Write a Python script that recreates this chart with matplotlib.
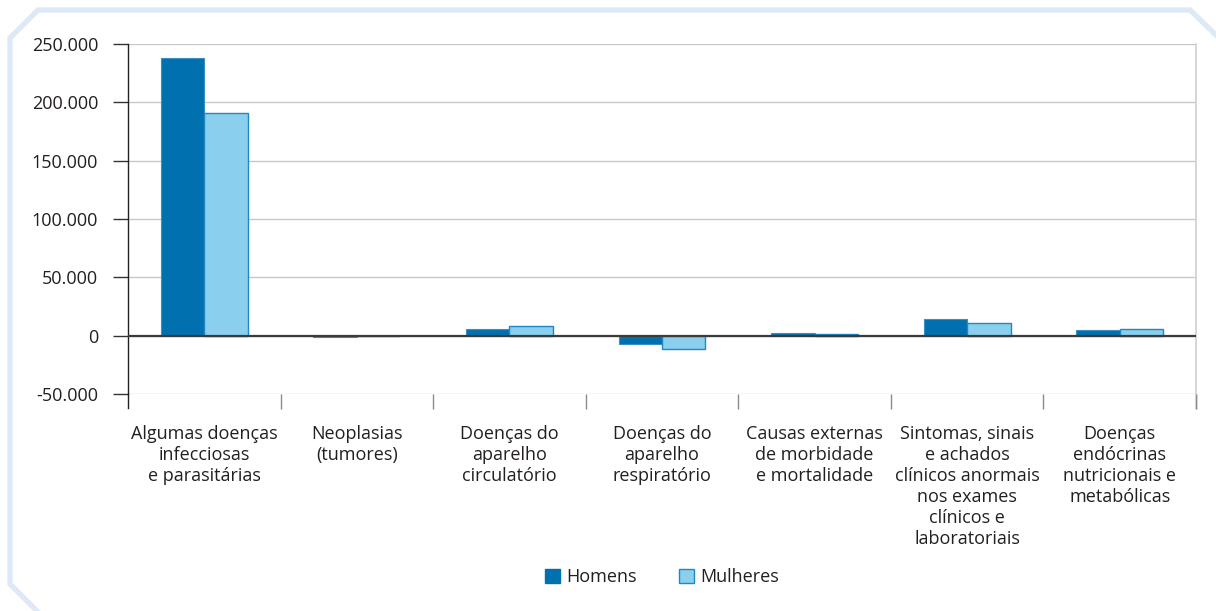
import numpy as np
import matplotlib
matplotlib.use("Agg")
import matplotlib.pyplot as plt
from matplotlib.lines import Line2D
from matplotlib.patches import Patch
from matplotlib.ticker import FuncFormatter

categories = [
    "Algumas doenças\ninfecciosas\ne parasitárias",
    "Neoplasias\n(tumores)",
    "Doenças do\naparelho\ncirculatório",
    "Doenças do\naparelho\nrespiratório",
    "Causas externas\nde morbidade\ne mortalidade",
    "Sintomas, sinais\ne achados\nclínicos anormais\nnos exames\nclínicos e\nlaboratoriais",
    "Doenças\nendócrinas\nnutricionais e\nmetabólicas",
]
homens = [238000, -1500, 6000, -7000, 2600, 14600, 5200]
mulheres = [190500, -600, 8000, -11500, 1500, 10600, 6000]
yticks = [-50000, 0, 50000, 100000, 150000, 200000, 250000]

plt.rcParams['font.family'] = ['Open Sans', 'DejaVu Sans']
text_color = '#231f20'
fs = 13

W, H = 1216, 611
fig = plt.figure(figsize=(W / 100, H / 100), dpi=100)
ax = fig.add_axes([128 / W, 1 - 394 / H, (1196 - 128) / W, (394 - 44) / H])

x = np.arange(len(categories))
bw = 0.285
ax.bar(x - bw / 2, homens, bw, color='#0071ae', edgecolor='#3a8fc4', linewidth=0.8, zorder=3)
ax.bar(x + bw / 2, mulheres, bw, color='#8acfee', edgecolor='#2088c6', linewidth=1.0, zorder=3)

ax.set_xlim(-0.5, len(categories) - 0.5)
ax.set_ylim(-50000, 250000)
ax.set_yticks(yticks)
ax.yaxis.set_major_formatter(FuncFormatter(lambda v, p: f"{int(v):,}".replace(",", ".")))
ax.yaxis.grid(True, color='#c8c8c8', linewidth=1.0, zorder=0)
ax.axhline(0, color='#3a3a3a', linewidth=1.6, zorder=4)

ax.set_xticks(x)
ax.set_xticklabels(categories, fontsize=fs, color=text_color, linespacing=1.22)
ax.tick_params(axis='x', which='major', length=0, pad=22)
ax.set_xticks(np.arange(0.5, len(categories), 1), minor=True)
ax.tick_params(axis='x', which='minor', length=10.5, width=1.0, color='#8c8c8c', direction='out')
ax.tick_params(axis='y', length=11, width=1.0, color='#333333', labelsize=fs,
               labelcolor=text_color, pad=10.5)

for s in ['top', 'bottom']:
    ax.spines[s].set_visible(False)
ax.spines['right'].set_color('#d0d0d0')
ax.spines['right'].set_linewidth(1.2)
ax.spines['left'].set_color('#222222')
ax.spines['left'].set_linewidth(1.0)
# left spine runs a little below the plot like the category ticks
ax.plot([0, 0], [0, -14 / 350], transform=ax.transAxes, color='#222222',
        linewidth=1.0, clip_on=False)
ax.plot([1, 1], [0, -14 / 350], transform=ax.transAxes, color='#8c8c8c',
        linewidth=1.0, clip_on=False)

handles = [Patch(facecolor='#0071ae', edgecolor='#0071ae', label='Homens'),
           Patch(facecolor='#8acfee', edgecolor='#2088c6', label='Mulheres')]
fig.legend(handles=handles, loc='center', bbox_to_anchor=(662 / W, 1 - 577 / H),
           ncol=2, frameon=False, fontsize=fs, handlelength=0.85, handleheight=0.85,
           handletextpad=0.35, columnspacing=2.3, labelcolor=text_color)

# decorative frame
frame_color = '#dde9f6'
fx = [1216, 1190, 38, 10, 10, 38]
fy = [35, 10, 10, 38, 584, 612]
fig.add_artist(Line2D([v / W for v in fx], [1 - v / H for v in fy],
                      color=frame_color, linewidth=3.8, solid_joinstyle='miter'))

fig.savefig("out.png", dpi=100)
